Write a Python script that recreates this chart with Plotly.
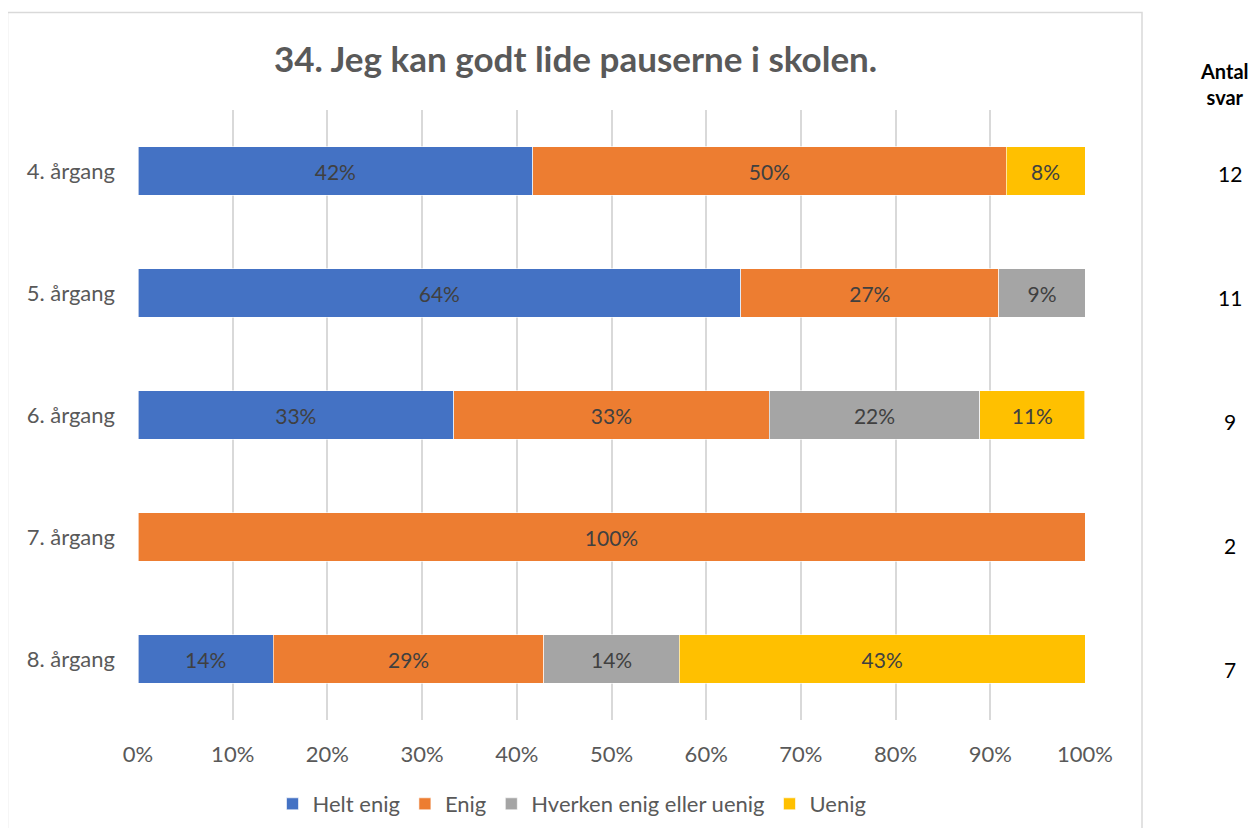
import plotly.graph_objects as go

categories = ["4. årgang", "5. årgang", "6. årgang", "7. årgang", "8. årgang"]
series_names = ["Helt enig", "Enig", "Hverken enig eller uenig", "Uenig"]
helt_enig = [41.67, 63.64, 33.33, 0.0, 14.29]
enig = [50.0, 27.27, 33.33, 100.0, 28.57]
hverken = [0.0, 9.09, 22.22, 0.0, 14.29]
uenig = [8.33, 0.0, 11.11, 0.0, 42.86]
antal_svar = [12, 11, 9, 2, 7]
colors = ["#4472C4", "#ED7D31", "#A5A5A5", "#FFC000"]
x_ticks = [0, 10, 20, 30, 40, 50, 60, 70, 80, 90, 100]
x_tick_labels = [f"{v}%" for v in x_ticks]
title_text = "34. Jeg kan godt lide pauserne i skolen."

OFF = 8  # default page body margin
W, H = 1259 - 2 * OFF, 836 - 2 * OFF
L = 138 - OFF
T = 110 - OFF
R = W - (1085 - OFF)
B = H - (720 - OFF)
PW = W - L - R
PH = H - T - B

def px_x(px):
    return (px - OFF - L) / PW

def px_y(py):
    return 1 - (py - OFF - T) / PH

FONT = "Lato, Carlito, Calibri, sans-serif"

fig = go.Figure()
for name, vals, col in zip(series_names, [helt_enig, enig, hverken, uenig], colors):
    fig.add_trace(go.Bar(
        y=categories, x=vals, name=name, orientation="h",
        marker=dict(color=col, line=dict(color="white", width=0.6)),
        text=[f"{round(v)}%" if v > 0 else "" for v in vals],
        textposition="inside", insidetextanchor="middle",
        textfont=dict(family=FONT, size=21, color="#404040"),
        constraintext="none",
        hoverinfo="skip",
    ))

fig.update_layout(
    barmode="stack",
    bargap=0.6,
    width=W, height=H,
    margin=dict(l=L, r=R, t=T, b=B, autoexpand=False),
    paper_bgcolor="white", plot_bgcolor="white",
    font=dict(family=FONT, color="#595959"),
    showlegend=True,
    legend=dict(orientation="h", x=px_x(572), xanchor="center", y=px_y(804), yanchor="middle",
                font=dict(family=FONT, size=22, color="#595959"), traceorder="normal",
                itemwidth=30, tracegroupgap=0),
)

fig.update_xaxes(range=[0, 100], tickvals=x_ticks, ticktext=x_tick_labels,
                 showgrid=True, gridcolor="#D9D9D9", gridwidth=1.5,
                 zeroline=False, showline=False, ticks="",
                 ticklabelstandoff=19,
                 tickfont=dict(family=FONT, size=22, color="#595959"), fixedrange=True)
fig.update_yaxes(categoryorder="array", categoryarray=categories, autorange="reversed",
                 showgrid=False, showline=False, zeroline=False, ticks="",
                 ticklabelstandoff=22,
                 tickfont=dict(family=FONT, size=22, color="#595959"), fixedrange=True)

# chart border
fig.add_shape(type="rect", xref="paper", yref="paper",
              x0=px_x(7.5), x1=px_x(1142), y0=px_y(860), y1=px_y(12.5),
              line=dict(color="#D9D9D9", width=1.5), fillcolor="rgba(0,0,0,0)", layer="below")

# title
fig.add_annotation(text=f"<b>{title_text}</b>", xref="paper", yref="paper",
                   x=px_x(575), y=px_y(58), xanchor="center", yanchor="middle",
                   showarrow=False, font=dict(family=FONT, size=35, color="#595959"))

# Antal svar header
fig.add_annotation(text="<b>Antal</b><br><b>svar</b>", xref="paper", yref="paper",
                   x=px_x(1224), y=px_y(84), xanchor="center", yanchor="middle",
                   showarrow=False, align="center",
                   font=dict(family=FONT, size=20, color="#000000"))

for i, (cat, n) in enumerate(zip(categories, antal_svar)):
    fig.add_annotation(text=str(n), xref="paper", yref="y",
                       x=px_x(1230), y=cat, xanchor="center", yanchor="middle",
                       yshift=-2 - 2 * i, showarrow=False,
                       font=dict(family=FONT, size=21, color="#000000"))

fig.write_html("out.html")
